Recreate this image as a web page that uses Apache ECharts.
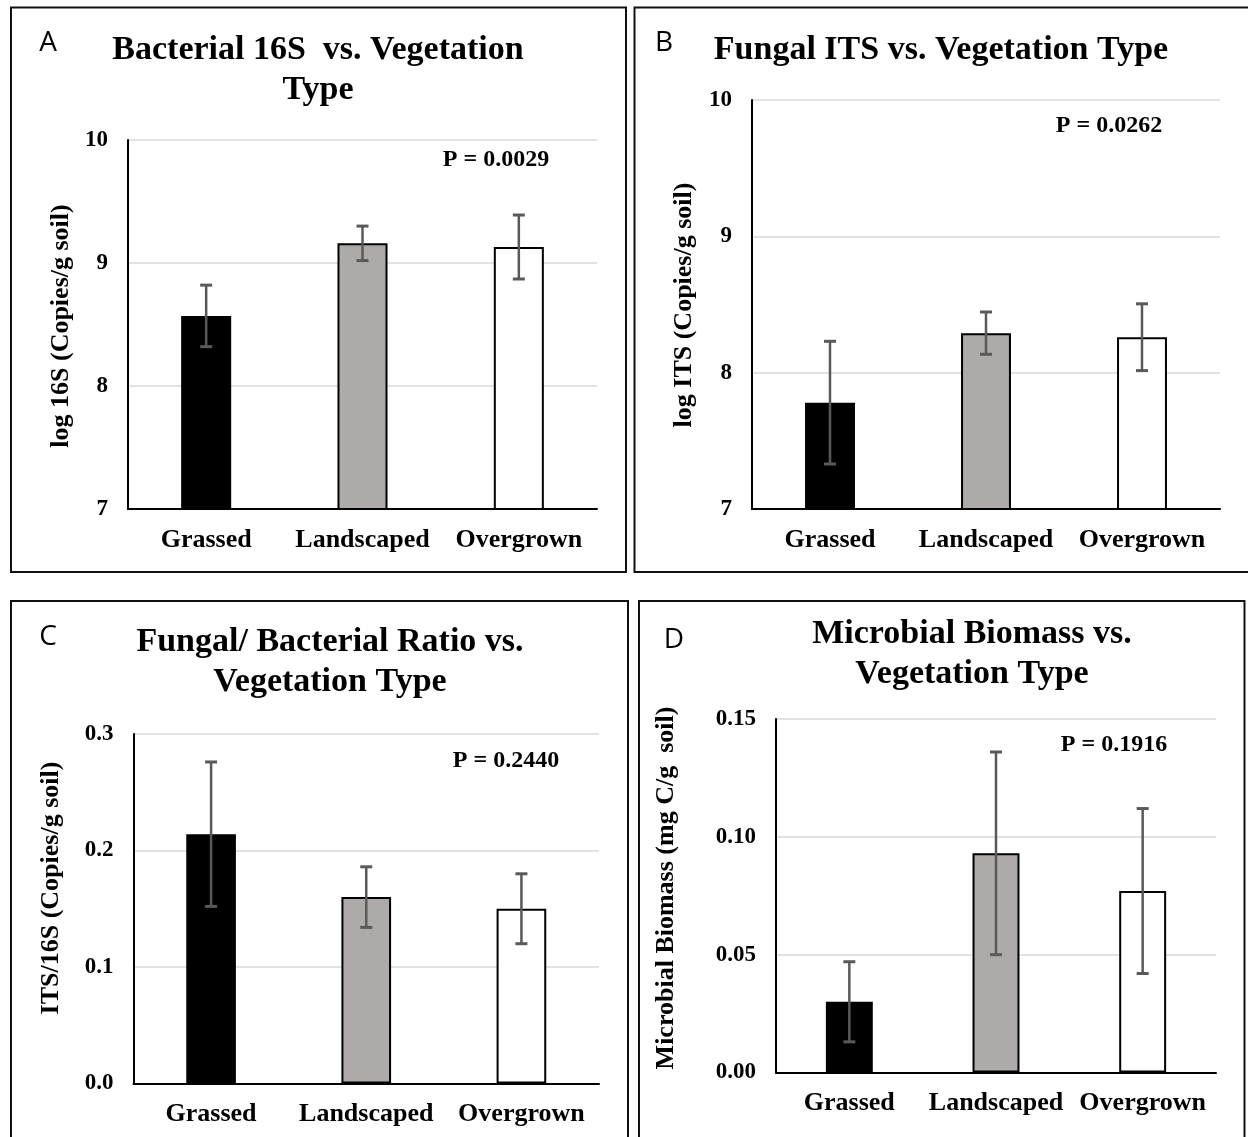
<!DOCTYPE html>
<html>
<head>
<meta charset="utf-8">
<title>Soil microbial measures by vegetation type</title>
<script src="https://cdn.jsdelivr.net/npm/echarts@6/dist/echarts.min.js"></script>
<style>
  html, body { margin: 0; padding: 0; background: #ffffff; }
  #chart { width: 1248px; height: 1137px; }
</style>
</head>
<body>
<div id="chart"></div>
<script>
// Vegetation types shared by all four panels
const categories = ['Grassed', 'Landscaped', 'Overgrown'];
const barColors = ['#000000', '#AEAAAA', '#FFFFFF'];

// A: bacterial 16S gene copies (log copies / g soil), mean and standard error
const bacterial16S = [8.57, 9.16, 9.13];
const bacterial16SErr = [0.25, 0.14, 0.26];

// B: fungal ITS gene copies (log copies / g soil)
const fungalITS = [7.78, 8.29, 8.26];
const fungalITSErr = [0.45, 0.155, 0.245];

// C: fungal / bacterial ratio (ITS / 16S)
const fbRatio = [0.214, 0.160, 0.150];
const fbRatioErr = [0.062, 0.026, 0.030];

// D: microbial biomass (mg C / g soil)
const biomass = [0.030, 0.093, 0.077];
const biomassErr = [0.017, 0.043, 0.035];

// Panel headings, axis names and ANOVA p-values
const panelLetters = ['A', 'B', 'C', 'D'];
const panelTitles = [
  'Bacterial 16S  vs. Vegetation\nType',
  'Fungal ITS vs. Vegetation Type',
  'Fungal/ Bacterial Ratio vs.\nVegetation Type',
  'Microbial Biomass vs.\nVegetation Type'
];
const yAxisNames = [
  'log 16S (Copies/g soil)',
  'log ITS (Copies/g soil)',
  'ITS/16S (Copies/g soil)',
  'Microbial Biomass (mg C/g  soil)'
];
const pLabels = ['P = 0.0029', 'P = 0.0262', 'P = 0.2440', 'P = 0.1916'];

// Value-axis ranges: [min, max, interval, decimals]
const yRanges = [
  [7, 10, 1, 0],
  [7, 10, 1, 0],
  [0, 0.3, 0.1, 1],
  [0, 0.15, 0.05, 2]
];

const means = [bacterial16S, fungalITS, fbRatio, biomass];
const errors = [bacterial16SErr, fungalITSErr, fbRatioErr, biomassErr];

// Layout of each panel on the page
const layout = [
  { grid: { left: 128, top: 140, width: 469, height: 369 },
    border: [11, 7.5, 615, 564.5], letter: [48, 43], title: [318, 70],
    yName: [61, 326], p: [496, 160] },
  { grid: { left: 752, top: 100, width: 468, height: 409 },
    border: [634.5, 7.5, 640, 564.5], letter: [664, 43], title: [941, 50],
    yName: [684, 305], p: [1109, 126] },
  { grid: { left: 133.5, top: 734, width: 465.5, height: 349.5 },
    border: [11, 601, 617, 560], letter: [48, 637], title: [330, 662],
    yName: [51, 888], p: [506, 761] },
  { grid: { left: 776, top: 719, width: 440, height: 353.5 },
    border: [639, 601, 605.5, 560], letter: [674, 640], title: [972, 654],
    yName: [666, 888], p: [1114, 745] }
];

const serif = '"Liberation Serif", "Times New Roman", serif';
const errColor = '#595959';

function errorBarRenderer(params, api) {
  const idx = api.value(0);
  const top = api.coord([idx, api.value(2)]);
  const bot = api.coord([idx, api.value(1)]);
  const half = 6;
  return {
    type: 'group',
    children: [
      { type: 'line', shape: { x1: top[0], y1: top[1], x2: bot[0], y2: bot[1] },
        style: { stroke: errColor, lineWidth: 2.5 } },
      { type: 'line', shape: { x1: top[0] - half, y1: top[1], x2: top[0] + half, y2: top[1] },
        style: { stroke: errColor, lineWidth: 3 } },
      { type: 'line', shape: { x1: bot[0] - half, y1: bot[1], x2: bot[0] + half, y2: bot[1] },
        style: { stroke: errColor, lineWidth: 3 } }
    ]
  };
}

const grids = [], xAxes = [], yAxes = [], series = [], graphics = [];

layout.forEach((L, k) => {
  grids.push(Object.assign({ containLabel: false }, L.grid));

  xAxes.push({
    type: 'category', gridIndex: k, data: categories,
    axisLine: { lineStyle: { color: '#000', width: 2 } },
    axisTick: { show: false },
    axisLabel: { color: '#000', fontFamily: serif, fontWeight: 'bold', fontSize: 26, margin: 18,
                 interval: 0, hideOverlap: false }
  });

  const [mn, mx, step, dec] = yRanges[k];
  yAxes.push({
    type: 'value', gridIndex: k, min: mn, max: mx, interval: step,
    axisLine: { show: true, lineStyle: { color: '#000', width: 2 } },
    axisTick: { show: false },
    splitLine: { lineStyle: { color: '#D9D9D9', width: 1.5 } },
    axisLabel: {
      color: '#000', fontFamily: serif, fontWeight: 'bold', fontSize: 23, margin: 20,
      formatter: v => v.toFixed(dec)
    }
  });

  series.push({
    type: 'bar', xAxisIndex: k, yAxisIndex: k, barWidth: '32%',
    data: means[k].map((v, i) => ({
      value: v,
      itemStyle: { color: barColors[i], borderColor: '#000', borderWidth: 2 }
    })),
    z: 2
  });

  series.push({
    type: 'custom', xAxisIndex: k, yAxisIndex: k,
    renderItem: errorBarRenderer,
    encode: { x: 0, y: [1, 2] },
    data: means[k].map((v, i) => [i, v - errors[k][i], v + errors[k][i]]),
    z: 5
  });

  // panel frame
  graphics.push({
    type: 'rect', silent: true,
    shape: { x: L.border[0], y: L.border[1], width: L.border[2], height: L.border[3] },
    style: { fill: 'none', stroke: '#111', lineWidth: 2 }
  });
  // panel letter
  graphics.push({
    type: 'text', x: L.letter[0], y: L.letter[1],
    style: { text: panelLetters[k], font: '28px "Open Sans", sans-serif', fill: '#000',
             align: 'center', verticalAlign: 'middle' }
  });
  // panel title
  graphics.push({
    type: 'text', x: L.title[0], y: L.title[1],
    style: { text: panelTitles[k], font: 'bold 34px ' + serif, fill: '#000',
             align: 'center', verticalAlign: 'middle', lineHeight: 40 }
  });
  // value-axis name
  graphics.push({
    type: 'text', x: L.yName[0], y: L.yName[1], rotation: Math.PI / 2,
    style: { text: yAxisNames[k], font: 'bold 26px ' + serif, fill: '#000',
             align: 'center', verticalAlign: 'middle' }
  });
  // p-value annotation
  graphics.push({
    type: 'text', x: L.p[0], y: L.p[1],
    style: { text: pLabels[k], font: 'bold 24px ' + serif, fill: '#000',
             align: 'center', verticalAlign: 'middle' }
  });
});

const chart = echarts.init(document.getElementById('chart'), null, { renderer: 'canvas' });
chart.setOption({
  backgroundColor: '#FFFFFF',
  animation: false,
  grid: grids,
  xAxis: xAxes,
  yAxis: yAxes,
  series: series,
  graphic: graphics
});
</script>
</body>
</html>
